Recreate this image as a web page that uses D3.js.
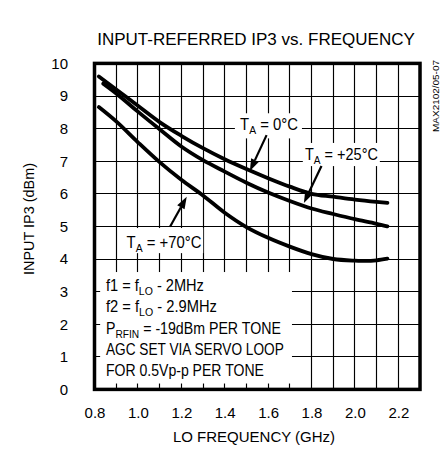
<!DOCTYPE html>
<html><head><meta charset="utf-8">
<script src="https://cdn.jsdelivr.net/npm/d3@7"></script>
<style>
html,body{margin:0;padding:0;background:#fff;}
svg{display:block;font-family:"Liberation Sans",Arial,Helvetica,sans-serif;}
</style>
</head><body>
<svg id="chart" width="441" height="452"></svg>
<script>
// ---------- DATA ----------
const xTickValues = [0.8, 1.0, 1.2, 1.4, 1.6, 1.8, 2.0, 2.2];
const xTickLabels = ["0.8", "1.0", "1.2", "1.4", "1.6", "1.8", "2.0", "2.2"];
const yTickValues = [0, 1, 2, 3, 4, 5, 6, 7, 8, 9, 10];
const yTickLabels = ["0", "1", "2", "3", "4", "5", "6", "7", "8", "9", "10"];

const freq0C  = [0.82, 0.9, 1.0, 1.1, 1.2, 1.3, 1.4, 1.5, 1.6, 1.7, 1.8, 1.9, 2.0, 2.1, 2.15];
const ip3_0C  = [9.6, 9.2, 8.7, 8.2, 7.78, 7.4, 7.06, 6.76, 6.48, 6.22, 6.0, 5.91, 5.82, 5.75, 5.72];

const freq25C = [0.84, 0.9, 1.0, 1.1, 1.2, 1.3, 1.4, 1.5, 1.6, 1.7, 1.8, 1.9, 2.0, 2.1, 2.15];
const ip3_25C = [9.38, 9.08, 8.52, 7.98, 7.45, 7.03, 6.68, 6.34, 6.04, 5.78, 5.55, 5.38, 5.22, 5.08, 5.0];

const freq70C = [0.82, 0.9, 1.0, 1.1, 1.2, 1.3, 1.4, 1.5, 1.6, 1.7, 1.8, 1.9, 2.0, 2.05, 2.1, 2.15];
const ip3_70C = [8.66, 8.22, 7.58, 6.97, 6.43, 5.95, 5.42, 4.98, 4.65, 4.38, 4.15, 4.0, 3.95, 3.94, 3.96, 4.01];

const seriesNames = ["0°C", "+25°C", "+70°C"];

// ---------- LAYOUT ----------
const plot = {left: 94.5, right: 420, top: 63.4, bottom: 389.4};
const x = d3.scaleLinear().domain([0.8, 2.3]).range([plot.left, plot.right]);
const y = d3.scaleLinear().domain([0, 10]).range([plot.bottom, plot.top]);
const crisp = v => Math.round(v - 0.5) + 0.5;

const svg = d3.select("#chart");

// grid
const grid = svg.append("g").attr("stroke", "#000").attr("stroke-width", 1.15);
grid.selectAll("line.v").data(x.ticks(15)).join("line")
  .attr("x1", d => crisp(x(d))).attr("x2", d => crisp(x(d)))
  .attr("y1", plot.top).attr("y2", plot.bottom);
grid.selectAll("line.h").data(y.ticks(10)).join("line")
  .attr("x1", plot.left).attr("x2", plot.right)
  .attr("y1", d => crisp(y(d))).attr("y2", d => crisp(y(d)));

// annotation layout (in data units)
const annotations = [
  {name: seriesNames[0], box: [1.447, 1.756, 7.70, 8.47], text: [1.471, 7.96], width: 58,
   from: [1.593, 7.80], to: [1.516, 6.70]},
  {name: seriesNames[1], box: [1.76, 2.115, 6.85, 7.56], text: [1.77, 7.04], width: 73,
   from: [1.846, 6.85], to: [1.765, 5.72]},
  {name: seriesNames[2], box: [0.925, 1.301, 4.18, 4.95], text: [0.948, 4.35], width: 75,
   from: [1.148, 4.99], to: [1.225, 5.91]}
];
const infoBox = [0.826, 1.71, 0.18, 3.6];

// white boxes that hide the grid
const boxes = annotations.map(a => a.box).concat([infoBox]);
svg.append("g").selectAll("rect").data(boxes).join("rect")
  .attr("x", d => x(d[0])).attr("width", d => x(d[1]) - x(d[0]))
  .attr("y", d => y(d[3])).attr("height", d => y(d[2]) - y(d[3]))
  .attr("fill", "#fff");

// curves
const line = d3.line().x(d => x(d[0])).y(d => y(d[1])).curve(d3.curveMonotoneX);
const series = [
  d3.zip(freq0C, ip3_0C),
  d3.zip(freq25C, ip3_25C),
  d3.zip(freq70C, ip3_70C)
];
svg.append("g").selectAll("path").data(series).join("path")
  .attr("d", line).attr("fill", "none").attr("stroke", "#000")
  .attr("stroke-width", 3.8).attr("stroke-linecap", "round");

// frame
svg.append("rect").attr("x", plot.left).attr("y", plot.top)
  .attr("width", plot.right - plot.left).attr("height", plot.bottom - plot.top)
  .attr("fill", "none").attr("stroke", "#000").attr("stroke-width", 3.5);

// axes
const xAxis = svg.append("g").attr("transform", `translate(0,${plot.bottom})`)
  .call(d3.axisBottom(x).tickValues(xTickValues).tickFormat((d, i) => xTickLabels[i]).tickSize(0).tickPadding(18));
const yAxis = svg.append("g").attr("transform", `translate(${plot.left},0)`)
  .call(d3.axisLeft(y).tickValues(yTickValues).tickFormat((d, i) => yTickLabels[i]).tickSize(0).tickPadding(26.5));
[xAxis, yAxis].forEach(a => {
  a.select(".domain").remove();
  a.attr("font-family", null).attr("font-size", null);
  a.selectAll("text").attr("font-size", 15).attr("fill", "#000");
});

// helper: fit text horizontally to a target width
function fit(textSel, target) {
  const w = textSel.node().getBBox().width;
  textSel.attr("transform", `scale(${target / w},1)`);
}

// title
const tg = svg.append("g").attr("transform", "translate(256,45)");
const title = tg.append("text").attr("text-anchor", "middle").attr("font-size", 17)
  .text("INPUT-REFERRED IP3 vs.  FREQUENCY");
fit(title, 318);

// axis titles
svg.append("text").attr("x", 254).attr("y", 442).attr("text-anchor", "middle")
  .attr("font-size", 15).text("LO FREQUENCY (GHz)");
const yl = svg.append("g").attr("transform", "translate(34,219) rotate(-90)");
const ylt = yl.append("text").attr("text-anchor", "middle").attr("font-size", 15).text("INPUT IP3 (dBm)");
fit(ylt, 112);

// side code
const sg = svg.append("g").attr("transform", "translate(438.5,60) rotate(-90)");
const st = sg.append("text").attr("text-anchor", "end").attr("font-size", 9).text("MAX2102/05-07");
fit(st, 72);

// annotations
annotations.forEach(a => {
  const g = svg.append("g").attr("transform", `translate(${x(a.text[0])},${y(a.text[1])})`);
  const t = g.append("text").attr("font-size", 16.5);
  t.append("tspan").text("T");
  t.append("tspan").attr("font-size", 11.5).attr("dy", 4).text("A");
  t.append("tspan").attr("dy", -4).text(" = " + a.name);
  fit(t, a.width);
  // arrow
  const x1 = x(a.from[0]), y1 = y(a.from[1]), x2 = x(a.to[0]), y2 = y(a.to[1]);
  const ang = Math.atan2(y2 - y1, x2 - x1);
  const L = 12, hw = 4.2;
  const bx = x2 - L * Math.cos(ang), by = y2 - L * Math.sin(ang);
  svg.append("line").attr("x1", x1).attr("y1", y1).attr("x2", bx).attr("y2", by)
    .attr("stroke", "#000").attr("stroke-width", 2.2);
  svg.append("path").attr("fill", "#000").attr("d",
    `M${x2},${y2}L${bx - hw * Math.sin(ang)},${by + hw * Math.cos(ang)}L${bx + hw * Math.sin(ang)},${by - hw * Math.cos(ang)}Z`);
});

// info lines
const infoLines = [
  {parts: [["f1 = f", 0], ["LO", 1], [" - 2MHz", 0]], w: 98},
  {parts: [["f2 = f", 0], ["LO", 1], [" - 2.9MHz", 0]], w: 111},
  {parts: [["P", 0], ["RFIN", 1], [" = -19dBm PER TONE", 0]], w: 175},
  {parts: [["AGC SET VIA SERVO LOOP", 0]], w: 178},
  {parts: [["FOR 0.5Vp-p PER TONE", 0]], w: 158}
];
const infoBaselines = [291, 312, 333.5, 355, 376];
infoLines.forEach((ln, i) => {
  const g = svg.append("g").attr("transform", `translate(106,${infoBaselines[i]})`);
  const t = g.append("text").attr("font-size", 16);
  let prev = 0;
  ln.parts.forEach(([s, sub]) => {
    const dy = (sub ? 4 : 0) - prev;
    prev = sub ? 4 : 0;
    const ts = t.append("tspan").text(s);
    if (dy) ts.attr("dy", dy);
    if (sub) ts.attr("font-size", 11.5);
  });
  fit(t, ln.w);
});
</script>
</body></html>
